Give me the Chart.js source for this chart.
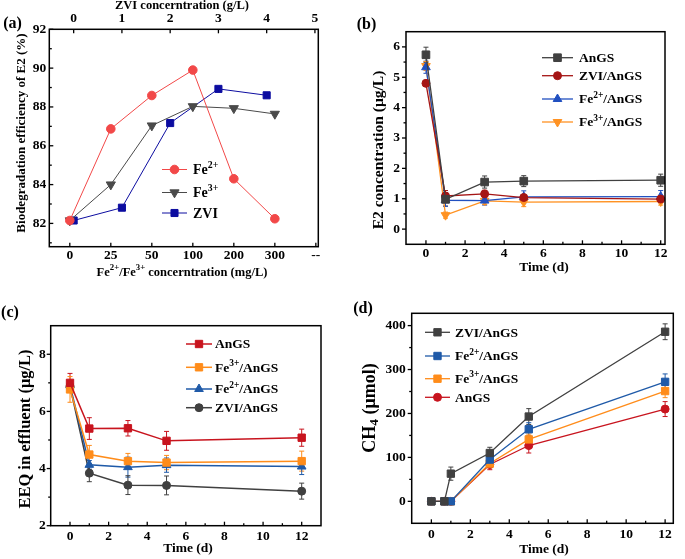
<!DOCTYPE html>
<html><head><meta charset="utf-8">
<script src="https://cdn.jsdelivr.net/npm/chart.js@4.4.1/dist/chart.umd.min.js"></script>
<style>
html,body{margin:0;padding:0;background:#fff;}
#wrap{position:relative;width:685px;height:559px;overflow:hidden;background:#fff;}
canvas{position:absolute;left:0;top:0;}
</style></head>
<body><div id="wrap">
<canvas id="ca" width="685" height="559"></canvas>
<canvas id="cb" width="685" height="559"></canvas>
<canvas id="cc" width="685" height="559"></canvas>
<canvas id="cd" width="685" height="559"></canvas>
</div>
<script>
// ---------- Panel (a) data ----------
const aConcLabels = ['0','25','50','100','200','300','--'];
const aConcTicks = [0,1,2,3,4,5,6];
const aConcIdx = [0,1,2,3,4,5];
const aFe2Eff = [82.15, 86.87, 88.59, 89.9, 84.3, 82.24];
const aFe3Eff = [82.15, 84.0, 87.04, 88.03, 87.93, 87.64];
const aZviConc = [0,1,2,3,4];
const aZviEff = [82.15, 82.81, 87.17, 88.93, 88.6];
const aZviTicks = [0,1,2,3,4,5];
const aZviTickLabels = ['0','1','2','3','4','5'];
const aYTicks = [82,84,86,88,90,92];

// ---------- Panel (b) data ----------
const bTime = [0,1,3,5,12];
const bAnGS = [5.74, 0.98, 1.55, 1.58, 1.61];
const bAnGSErr = [0.25, 0.22, 0.2, 0.18, 0.2];
const bZVI = [4.8, 1.09, 1.16, 1.04, 0.99];
const bZVIErr = [0.08, 0.18, 0.12, 0.1, 0.1];
const bFe2 = [5.33, 0.95, 0.94, 1.06, 1.07];
const bFe2Err = [0.2, 0.2, 0.15, 0.2, 0.2];
const bFe3 = [5.37, 0.46, 0.93, 0.89, 0.91];
const bFe3Err = [0.15, 0.1, 0.12, 0.15, 0.12];
const bXTicks = [0,2,4,6,8,10,12];
const bYTicks = [0,1,2,3,4,5,6];

// ---------- Panel (c) data ----------
const cTime = [0,1,3,5,12];
const cAnGS = [7.0, 5.4, 5.41, 4.97, 5.08];
const cAnGSErr = [0.33, 0.38, 0.27, 0.33, 0.3];
const cFe3 = [6.77, 4.49, 4.26, 4.21, 4.26];
const cFe3Err = [0.45, 0.32, 0.27, 0.25, 0.35];
const cFe2 = [6.92, 4.13, 4.05, 4.12, 4.07];
const cFe2Err = [0.15, 0.15, 0.35, 0.25, 0.28];
const cZVI = [6.88, 3.84, 3.42, 3.41, 3.21];
const cZVIErr = [0.2, 0.3, 0.33, 0.33, 0.28];
const cXTicks = [0,2,4,6,8,10,12];
const cYTicks = [2,4,6,8];

// ---------- Panel (d) data ----------
const dTime = [0, 0.67, 1, 3, 5, 12];
const dZVI = [0, 0, 63, 110, 193, 386];
const dZVIErr = [0, 0, 15, 13, 18, 18];
const dFe2 = [0, 0, 0, 95, 164, 272];
const dFe2Err = [0, 0, 0, 10, 15, 18];
const dFe3 = [0, 0, 0, 86, 141, 251];
const dFe3Err = [0, 0, 0, 10, 12, 15];
const dAnGS = [0, 0, 0, 84, 127, 210];
const dAnGSErr = [0, 0, 0, 12, 17, 17];
const dXTicks = [0,2,4,6,8,10,12];
const dYTicks = [0,100,200,300,400];

// ---------- helpers ----------
const FF = '"Liberation Serif", "Times New Roman", serif';
const CW = 685, CH = 559;

function parseRich(str){
  const parts = []; const re = /(\^\{([^}]*)\})|(_\{([^}]*)\})|([^\^_]+)/g; let m;
  while((m = re.exec(str))){
    if(m[2]!==undefined) parts.push({t:m[2], sup:true});
    else if(m[4]!==undefined) parts.push({t:m[4], sub:true});
    else parts.push({t:m[5]});
  }
  return parts;
}
function drawRich(ctx, x, y, str, size, align, rot){
  const parts = parseRich(str);
  ctx.save(); ctx.translate(x,y); if(rot) ctx.rotate(rot);
  const segs = parts.map(p=>{
    const s = p.sup ? size*0.7 : p.sub ? size*0.75 : size;
    ctx.font = 'bold '+s+'px '+FF;
    return {t:p.t, s, w:ctx.measureText(p.t).width, dy: p.sup ? -size*0.36 : p.sub ? size*0.26 : 0};
  });
  const tw = segs.reduce((a,b)=>a+b.w,0);
  let cx = align==='center' ? -tw/2 : align==='right' ? -tw : 0;
  ctx.textBaseline='middle'; ctx.textAlign='left'; ctx.fillStyle='#000';
  segs.forEach(s=>{ ctx.font='bold '+s.s+'px '+FF; ctx.fillText(s.t, cx, s.dy); cx += s.w; });
  ctx.restore();
}
function drawMarker(ctx, style, x, y, r, color, rot){
  ctx.save(); ctx.fillStyle=color; ctx.strokeStyle=color; ctx.lineWidth=1;
  ctx.beginPath();
  if(style==='circle'){ ctx.arc(x,y,r,0,Math.PI*2); }
  else if(style==='rect'){ const s=r*Math.SQRT1_2; ctx.rect(x-s,y-s,2*s,2*s); }
  else if(style==='triangle'){
    let a = (rot||0)*Math.PI/180;
    ctx.moveTo(x+Math.sin(a)*r, y-Math.cos(a)*r); a+=2*Math.PI/3;
    ctx.lineTo(x+Math.sin(a)*r, y-Math.cos(a)*r); a+=2*Math.PI/3;
    ctx.lineTo(x+Math.sin(a)*r, y-Math.cos(a)*r); ctx.closePath();
  }
  ctx.fill(); ctx.stroke(); ctx.restore();
}

const errPlugin = {
  id:'errbars',
  beforeDatasetsDraw(chart){
    const ctx = chart.ctx;
    chart.data.datasets.forEach(ds=>{
      if(!ds.errors) return;
      const xs = chart.scales[ds.xAxisID||'x'], ys = chart.scales[ds.yAxisID||'y'];
      ctx.save(); ctx.strokeStyle = ds.borderColor; ctx.lineWidth = 1;
      ds.data.forEach((p,i)=>{
        const e = ds.errors[i]; if(!e) return;
        const px = xs.getPixelForValue(p.x), y1 = ys.getPixelForValue(p.y+e), y2 = ys.getPixelForValue(p.y-e);
        ctx.beginPath();
        ctx.moveTo(px,y1); ctx.lineTo(px,y2);
        ctx.moveTo(px-2.5,y1); ctx.lineTo(px+2.5,y1);
        ctx.moveTo(px-2.5,y2); ctx.lineTo(px+2.5,y2);
        ctx.stroke();
      });
      ctx.restore();
    });
  }
};

function decoPlugin(s){
  return {
    id:'deco',
    afterDraw(chart){
      const ctx = chart.ctx, a = chart.chartArea;
      const xs = chart.scales.x, ys = chart.scales.y;
      ctx.save(); ctx.strokeStyle='#000'; ctx.lineWidth=1.3;
      const tick = (len, vals, sc, horiz, edge, dir)=>{
        vals.forEach(v=>{
          const p = sc.getPixelForValue(v);
          ctx.beginPath();
          if(horiz){ ctx.moveTo(p, edge); ctx.lineTo(p, edge + dir*len); }
          else { ctx.moveTo(edge, p); ctx.lineTo(edge + dir*len, p); }
          ctx.stroke();
        });
      };
      tick(4, s.xTicks, xs, true, a.bottom, s.xDir);
      if(s.xMinor) tick(2.5, s.xMinor, xs, true, a.bottom, s.xDir);
      tick(4, s.yTicks, ys, false, a.left, s.yDir);
      if(s.yMinor) tick(2.5, s.yMinor, ys, false, a.left, s.yDir);
      if(s.topTicks){ tick(4, s.topTicks, chart.scales.x2, true, a.top, 1); }
      ctx.lineWidth = 1.5;
      ctx.strokeRect(a.left, a.top, a.right-a.left, a.bottom-a.top);
      ctx.restore();
      s.texts.forEach(t=> drawRich(ctx, t.x, t.y, t.s, t.size, t.align||'center', t.rot||0));
      const L = s.legend;
      L.rows.forEach((r,i)=>{
        const ds = chart.data.datasets[r.ds];
        ctx.save(); ctx.strokeStyle = ds.borderColor; ctx.lineWidth = ds.borderWidth;
        ctx.beginPath(); ctx.moveTo(L.x1, r.y); ctx.lineTo(L.x2, r.y); ctx.stroke(); ctx.restore();
        drawMarker(ctx, ds.pointStyle, (L.x1+L.x2)/2, r.y, ds.pointRadius, ds.borderColor, ds.pointRotation||0);
        drawRich(ctx, L.xt, r.y + (L.dy||0), ds.label, L.size, 'left', 0);
      });
    }
  };
}

function series(label, xs, ys, errs, color, style, r, lw, rot, axis){
  return {
    label, data: xs.map((x,i)=>({x, y: ys[i]})), errors: errs,
    borderColor: color, backgroundColor: color, borderWidth: lw,
    pointStyle: style, pointRadius: r, pointRotation: rot||0, pointBorderWidth: 1,
    pointBackgroundColor: color, pointBorderColor: color,
    tension: 0, showLine: true, fill: false, clip: false,
    xAxisID: axis||'x', yAxisID: 'y'
  };
}

function makeChart(id, s){
  const yW = 30, xH = 20, topH = s.topTicks ? 20 : 0;
  const grid = {display:false, drawTicks:false, tickLength:0};
  const scales = {
    x: { type:'linear', position:'bottom', min:s.xMin, max:s.xMax,
      grid, border:{display:false},
      afterBuildTicks: sc=>{ sc.ticks = s.xTicks.map(v=>({value:v})); },
      ticks:{ callback:(v,i)=> s.xLabels[i], autoSkip:false, maxRotation:0, padding:s.xPad,
        color:'#000', font:{family:FF, size:s.tickSize, weight:'bold'} },
      afterFit: sc=>{ sc.height = xH; } },
    y: { type:'linear', position:'left', min:s.yMin, max:s.yMax,
      grid, border:{display:false},
      afterBuildTicks: sc=>{ sc.ticks = s.yTicks.map(v=>({value:v})); },
      ticks:{ callback:(v,i)=> s.yLabels[i], autoSkip:false, padding:s.yPad,
        color:'#000', font:{family:FF, size:s.tickSize, weight:'bold'} },
      afterFit: sc=>{ sc.width = yW; } }
  };
  if(s.topTicks){
    scales.x2 = { type:'linear', position:'top', min:s.x2Min, max:s.x2Max,
      grid, border:{display:false},
      afterBuildTicks: sc=>{ sc.ticks = s.topTicks.map(v=>({value:v})); },
      ticks:{ callback:(v,i)=> s.topLabels[i], autoSkip:false, maxRotation:0, padding:s.topPad,
        color:'#000', font:{family:FF, size:s.tickSize, weight:'bold'} },
      afterFit: sc=>{ sc.height = topH; } };
  }
  return new Chart(document.getElementById(id), {
    type:'line',
    data:{ datasets: s.datasets },
    options:{
      responsive:false, animation:false, events:[],
      layout:{ padding:{ left: s.L - yW, right: CW - s.R, top: s.T - topH, bottom: CH - s.B - xH } },
      plugins:{ legend:{display:false}, tooltip:{enabled:false} },
      scales
    },
    plugins:[errPlugin, decoPlugin(s)]
  });
}

// ---------- (a) ----------
makeChart('ca', {
  L:49.3, R:318.3, T:29.3, B:246.7,
  xMin:-0.5, xMax:6.06, yMin:80.8, yMax:92, x2Min:-0.505, x2Max:5.07,
  xTicks:aConcTicks, xLabels:aConcLabels, yTicks:aYTicks, yLabels:aYTicks.map(String),
  topTicks:aZviTicks, topLabels:aZviTickLabels,
  yMinor:[81,83,85,87,89,91], xDir:-1, yDir:1,
  tickSize:13.5, xPad:1, yPad:3, topPad:3,
  datasets:[
    series('Fe^{2+}', aConcIdx, aFe2Eff, null, '#f24848', 'circle', 4.3, 1, 0),
    series('Fe^{3+}', aConcIdx, aFe3Eff, null, '#4a4a4a', 'triangle', 5.3, 1, 180),
    series('ZVI', aZviConc, aZviEff, null, '#0c0ca0', 'rect', 5.0, 1, 0, 'x2')
  ],
  texts:[
    {x:12.5, y:23.5, s:'(a)', size:16},
    {x:22, y:133, s:'Biodegradation efficiency of E2 (%)', size:13, rot:-Math.PI/2},
    {x:182, y:272.5, s:'Fe^{2+}/Fe^{3+} concerntration (mg/L)', size:12.5},
    {x:182, y:6, s:'ZVI concerntration (g/L)', size:12.5}
  ],
  legend:{ x1:162, x2:187, xt:193, size:14, dy:1, rows:[{ds:0,y:169.5},{ds:1,y:192.5},{ds:2,y:213}] }
});

// ---------- (b) ----------
makeChart('cb', {
  L:406, R:665, T:31.7, B:244.3,
  xMin:-1.02, xMax:12.22, yMin:-0.5, yMax:6.5,
  xTicks:bXTicks, xLabels:bXTicks.map(String), yTicks:bYTicks, yLabels:bYTicks.map(String),
  xMinor:[1,3,5,7,9,11], yMinor:[0.5,1.5,2.5,3.5,4.5,5.5], xDir:-1, yDir:-1,
  tickSize:13.5, xPad:1, yPad:6,
  datasets:[
    series('AnGS', bTime, bAnGS, bAnGSErr, '#404040', 'rect', 5.4, 1.3, 0),
    series('ZVI/AnGS', bTime, bZVI, bZVIErr, '#a51515', 'circle', 4, 1.3, 0),
    series('Fe^{2+}/AnGS', bTime, bFe2, bFe2Err, '#2150c0', 'triangle', 5, 1.3, 0),
    series('Fe^{3+}/AnGS', bTime, bFe3, bFe3Err, '#ff9222', 'triangle', 5, 1.3, 180)
  ],
  texts:[
    {x:366.5, y:25, s:'(b)', size:16},
    {x:379, y:150, s:'E2 concentration (μg/L)', size:15.5, rot:-Math.PI/2},
    {x:544, y:267.5, s:'Time (d)', size:13.5}
  ],
  legend:{ x1:542, x2:573, xt:579, size:13.5, dy:1, rows:[{ds:0,y:57.7},{ds:1,y:75.7},{ds:2,y:99},{ds:3,y:122}] }
});

// ---------- (c) ----------
makeChart('cc', {
  L:50.7, R:321, T:325.7, B:525.7,
  xMin:-1, xMax:13, yMin:2, yMax:9,
  xTicks:cXTicks, xLabels:cXTicks.map(String), yTicks:cYTicks, yLabels:cYTicks.map(String),
  xMinor:[1,3,5,7,9,11], yMinor:[3,5,7], xDir:-1, yDir:-1,
  tickSize:13.5, xPad:3, yPad:5,
  datasets:[
    series('AnGS', cTime, cAnGS, cAnGSErr, '#c8141e', 'rect', 5.2, 1.5, 0),
    series('Fe^{3+}/AnGS', cTime, cFe3, cFe3Err, '#ff8c1a', 'rect', 5.2, 1.5, 0),
    series('Fe^{2+}/AnGS', cTime, cFe2, cFe2Err, '#1f5aa8', 'triangle', 5, 1.5, 0),
    series('ZVI/AnGS', cTime, cZVI, cZVIErr, '#404040', 'circle', 4, 1.5, 0)
  ],
  texts:[
    {x:10, y:313, s:'(c)', size:16},
    {x:26, y:429, s:'EEQ in effluent (μg/L)', size:16.5, rot:-Math.PI/2},
    {x:188, y:549, s:'Time (d)', size:13.5}
  ],
  legend:{ x1:186, x2:212, xt:215, size:13.5, dy:1, rows:[{ds:0,y:344},{ds:1,y:367.3},{ds:2,y:389},{ds:3,y:407.7}] }
});

// ---------- (d) ----------
makeChart('cd', {
  L:411.7, R:673.3, T:313.3, B:523.3,
  xMin:-1.01, xMax:12.42, yMin:-50, yMax:428,
  xTicks:dXTicks, xLabels:dXTicks.map(String), yTicks:dYTicks, yLabels:dYTicks.map(String),
  xMinor:[1,3,5,7,9,11], yMinor:[50,150,250,350], xDir:-1, yDir:-1,
  tickSize:13.5, xPad:3, yPad:6,
  datasets:[
    series('ZVI/AnGS', dTime, dZVI, dZVIErr, '#404040', 'rect', 5.2, 1.3, 0),
    series('Fe^{2+}/AnGS', dTime, dFe2, dFe2Err, '#1f5aa8', 'rect', 5.2, 1.3, 0),
    series('Fe^{3+}/AnGS', dTime, dFe3, dFe3Err, '#ff8c1a', 'rect', 5.2, 1.3, 0),
    series('AnGS', dTime, dAnGS, dAnGSErr, '#c8141e', 'circle', 4, 1.3, 0)
  ],
  texts:[
    {x:363, y:308.5, s:'(d)', size:16},
    {x:370, y:408, s:'CH_{4} (μmol)', size:18, rot:-Math.PI/2},
    {x:544, y:550, s:'Time (d)', size:13.5}
  ],
  legend:{ x1:425, x2:450, xt:455, size:13.5, dy:1, rows:[{ds:0,y:332.3},{ds:1,y:356},{ds:2,y:378.7},{ds:3,y:397.3}] }
});
</script>
</body></html>
